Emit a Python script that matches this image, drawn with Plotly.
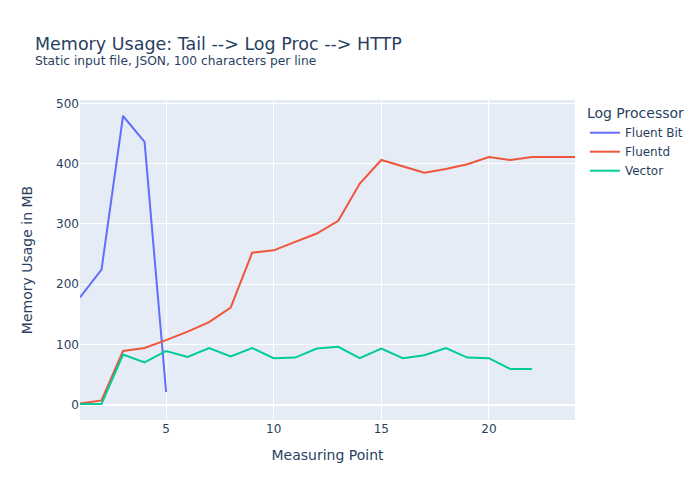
import plotly.graph_objects as go

fluentbit_x = [1, 2, 3, 4, 5]
fluentbit_y = [178, 224, 479, 436, 21]

fluentd_x = list(range(1, 25))
fluentd_y = [2, 7, 89, 94, 107, 121, 137, 161, 252, 256, 270, 284, 305,
             367, 406, 396, 385, 391, 399, 411, 406, 411, 411, 411]

vector_x = list(range(1, 23))
vector_y = [1, 1, 83, 70, 89, 79, 94, 80, 94, 77, 78, 93, 96,
            77, 93, 77, 82, 94, 78, 77, 59, 59]

fig = go.Figure()
fig.add_trace(go.Scatter(x=fluentbit_x, y=fluentbit_y, mode="lines", name="Fluent Bit"))
fig.add_trace(go.Scatter(x=fluentd_x, y=fluentd_y, mode="lines", name="Fluentd"))
fig.add_trace(go.Scatter(x=vector_x, y=vector_y, mode="lines", name="Vector"))

fig.update_layout(
    title=dict(text="Memory Usage: Tail --> Log Proc --> HTTP<br><sup>Static input file, JSON, 100 characters per line</sup>",
               font=dict(size=17.5)),
    font=dict(family="DejaVu Sans"),
    xaxis_title="Measuring Point",
    yaxis=dict(title=dict(text="Memory Usage in MB", standoff=20)),
    legend_title_text="Log Processor",
    width=700, height=500,
)
fig.write_html("out.html", config={"displayModeBar": False},
               post_script="document.body.style.margin='0';")
